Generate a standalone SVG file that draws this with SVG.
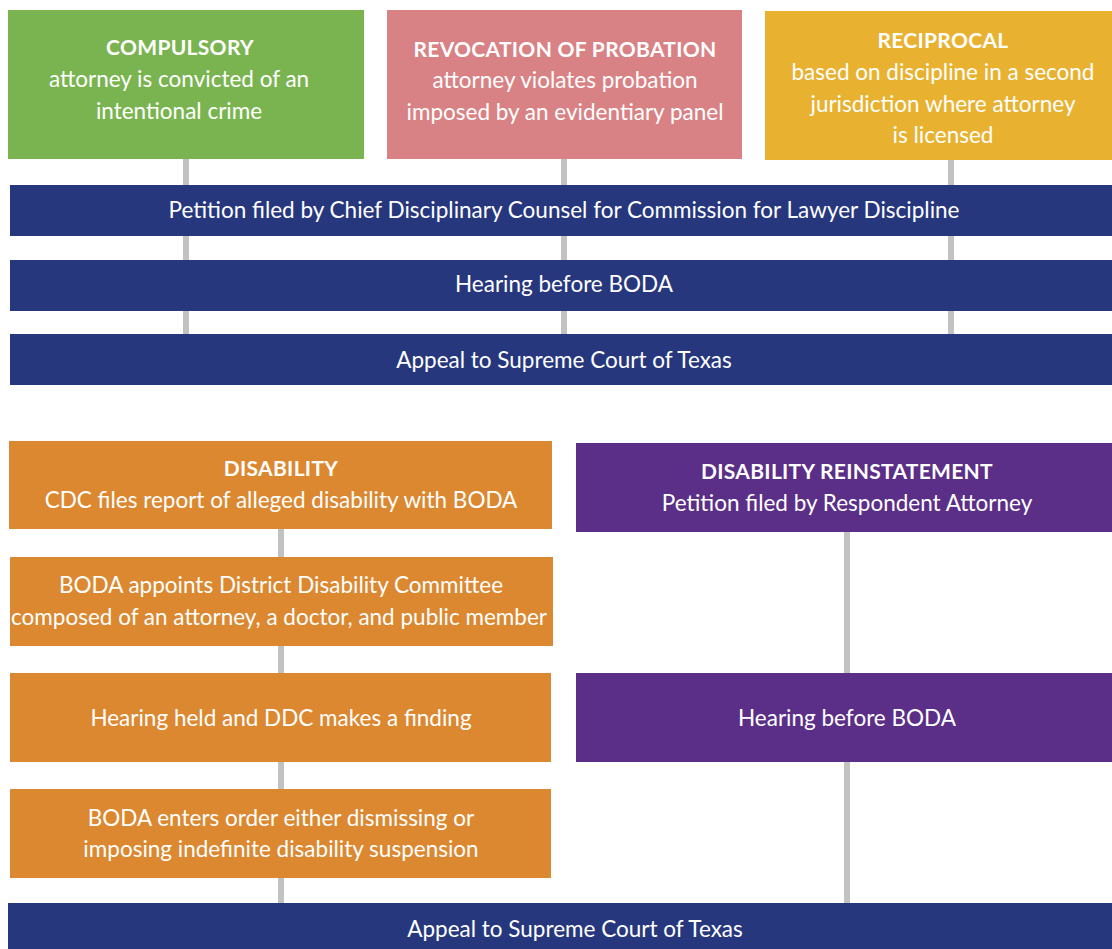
<svg xmlns="http://www.w3.org/2000/svg" width="1112" height="949" viewBox="0 0 1112 949">
<style>
text{font-family:Lato,"Open Sans","Liberation Sans",sans-serif;fill:#ffffff;text-anchor:middle;font-size:22.5px}
.h{font-weight:bold;font-size:21px;letter-spacing:0.3px}
.con line{stroke:#c2c2c2;stroke-width:6}
.green{fill:#7ab450}.red{fill:#d98285}.yel{fill:#e8b230}.navy{fill:#27377e}.org{fill:#dc8830}.pur{fill:#5b2f87}
</style>
<rect width="1112" height="949" fill="#ffffff"/>
<g id="connectors" class="con">
<line x1="186" y1="159" x2="186" y2="334"/>
<line x1="564" y1="159" x2="564" y2="334"/>
<line x1="951" y1="160" x2="951" y2="334"/>
<line x1="281" y1="529" x2="281" y2="903"/>
<line x1="847" y1="532" x2="847" y2="903"/>
</g>
<g id="compulsory">
<rect class="green" x="8" y="10" width="356" height="149"/>
<text class="h" x="180" y="55">COMPULSORY</text>
<text x="179" y="87">attorney is convicted of an</text>
<text x="179" y="119">intentional crime</text>
</g>
<g id="revocation">
<rect class="red" x="387" y="10" width="355" height="149"/>
<text class="h" x="565" y="57">REVOCATION OF PROBATION</text>
<text x="565" y="88">attorney violates probation</text>
<text x="565" y="120">imposed by an evidentiary panel</text>
</g>
<g id="reciprocal">
<rect class="yel" x="765" y="11" width="347" height="149"/>
<text class="h" x="943" y="48">RECIPROCAL</text>
<text x="943" y="80">based on discipline in a second</text>
<text x="943" y="112">jurisdiction where attorney</text>
<text x="943" y="143">is licensed</text>
</g>
<g id="petition">
<rect class="navy" x="10" y="185" width="1102" height="51"/>
<text x="564" y="218">Petition filed by Chief Disciplinary Counsel for Commission for Lawyer Discipline</text>
</g>
<g id="hearing1">
<rect class="navy" x="10" y="260" width="1102" height="51"/>
<text x="564" y="292">Hearing before BODA</text>
</g>
<g id="appeal1">
<rect class="navy" x="10" y="334" width="1102" height="51"/>
<text x="564" y="368">Appeal to Supreme Court of Texas</text>
</g>
<g id="disability">
<rect class="org" x="9" y="441" width="543" height="88"/>
<text class="h" x="281" y="476">DISABILITY</text>
<text x="281" y="508">CDC files report of alleged disability with BODA</text>
</g>
<g id="ddc">
<rect class="org" x="10" y="557" width="543" height="89"/>
<text x="281" y="593">BODA appoints District Disability Committee</text>
<text x="279" y="625">composed of an attorney, a doctor, and public member</text>
</g>
<g id="finding">
<rect class="org" x="10" y="673" width="541" height="89"/>
<text x="281" y="726">Hearing held and DDC makes a finding</text>
</g>
<g id="order">
<rect class="org" x="10" y="789" width="541" height="89"/>
<text x="281" y="826">BODA enters order either dismissing or</text>
<text x="281" y="857">imposing indefinite disability suspension</text>
</g>
<g id="reinstatement">
<rect class="pur" x="576" y="443" width="536" height="89"/>
<text class="h" x="847" y="479">DISABILITY REINSTATEMENT</text>
<text x="847" y="511">Petition filed by Respondent Attorney</text>
</g>
<g id="hearing2">
<rect class="pur" x="576" y="673" width="536" height="89"/>
<text x="847" y="726">Hearing before BODA</text>
</g>
<g id="appeal2">
<rect class="navy" x="8" y="903" width="1104" height="46"/>
<text x="575" y="937">Appeal to Supreme Court of Texas</text>
</g>
</svg>
